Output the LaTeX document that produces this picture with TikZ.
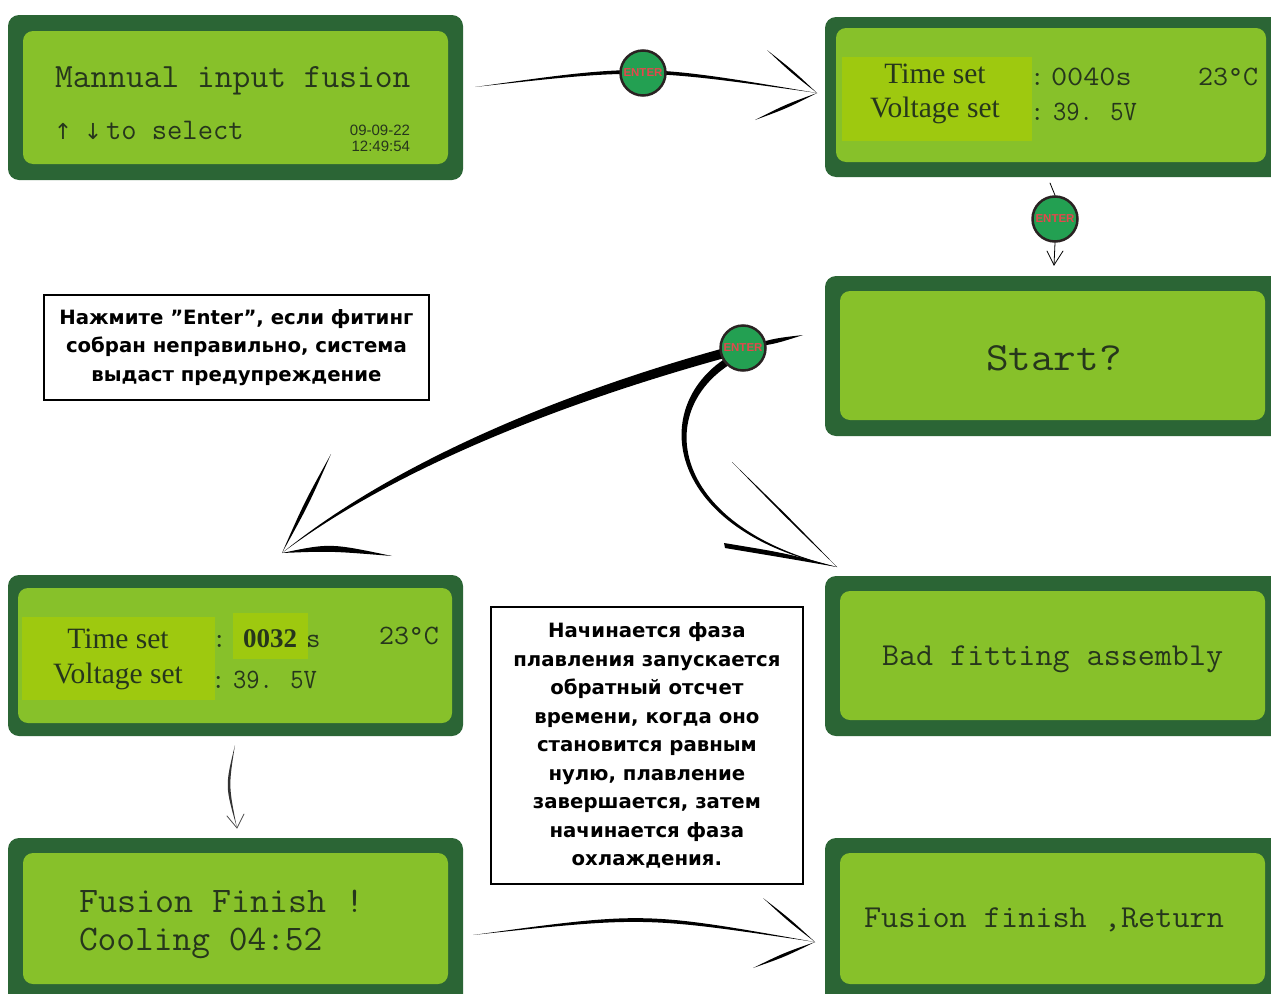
\documentclass[tikz,border=0pt]{standalone}
\usepackage{fontspec}
\usepackage{graphicx}
\usetikzlibrary{calc}
\setmainfont{Liberation Serif}
\newfontfamily\notefont{DejaVu Sans}
\newfontfamily\digitfont{Liberation Sans}
\newfontfamily\arrowfont{DejaVu Sans}

\definecolor{lcdframe}{HTML}{2B6535}
\definecolor{lcdface}{HTML}{87C12A}
\definecolor{lcdhigh}{HTML}{9EC90F}
\definecolor{lcdink}{HTML}{26361C}
\definecolor{btnfill}{HTML}{23A052}
\definecolor{btnring}{HTML}{2A2222}
\definecolor{btntext}{HTML}{E4474C}

% LCD-style text: size, horizontal scale, content (typewriter face)
\newcommand\lcd[3]{\scalebox{#2}[1]{\fontsize{#1}{#1}\selectfont\ttfamily #3}}
% tapered brush stroke between two points, #3 = bulge
\newcommand\quill[3]{\fill[black] (#1) .. controls ($(#1)!0.5!(#2)!#3!90:(#2)$) .. (#2) .. controls ($(#1)!0.5!(#2)!#3!-90:(#2)$) .. (#1) -- cycle;}

\begin{document}
\begin{tikzpicture}[x=1pt,y=-1pt,
  frame/.style={rectangle, fill=lcdframe, rounded corners=11pt, inner sep=0pt, outer sep=0pt, anchor=north west},
  face/.style={rectangle, fill=lcdface, rounded corners=10pt, inner sep=0pt, outer sep=0pt, anchor=north west},
  high/.style={rectangle, fill=lcdhigh, inner sep=0pt, outer sep=0pt, anchor=north west},
  lcdtext/.style={text=lcdink, inner sep=0pt, outer sep=0pt, anchor=base west},
  serif/.style={text=lcdink, inner sep=0pt, outer sep=0pt, anchor=base, font=\fontsize{29.5}{29.5}\selectfont},
  button/.style={circle, fill=btnfill, draw=btnring, line width=2.5pt, minimum size=45pt, inner sep=0pt,
    font=\digitfont\bfseries\fontsize{11.5}{11.5}\selectfont, text=btntext},
  note/.style={rectangle, draw=black, line width=1.8pt, align=center, inner sep=0pt, anchor=north west,
    font=\notefont\bfseries\fontsize{19.7}{28.5}\selectfont},
  thinline/.style={draw=black, line width=0.8pt, line cap=round},
]
\useasboundingbox (0,0) rectangle (1271,993);
\fill[white] (0,0) rectangle (1271,993);

% ---------- LCD screens ----------
% main menu
\node[frame, minimum width=455pt, minimum height=165pt] (p1) at (8,15) {};
\node[face, minimum width=425pt, minimum height=133pt] (p1f) at (23,31) {};
\node[lcdtext] (t1a) at (55,87) {\lcd{34}{1.015}{Mannual input fusion}};
\node[text=lcdink, inner sep=0pt, anchor=base] (up) at (63,139) {\fontsize{22}{22}\arrowfont ↑};
\node[text=lcdink, inner sep=0pt, anchor=base] (down) at (93,139) {\fontsize{22}{22}\arrowfont ↓};
\node[lcdtext] (t1b) at (106,139) {\lcd{30}{0.99}{to select}};
\node[lcdtext, anchor=base east] (d1) at (410,135) {\fontsize{15}{15}\selectfont\digitfont 09-09-22};
\node[lcdtext, anchor=base east] (d2) at (410,151) {\fontsize{15}{15}\selectfont\digitfont 12:49:54};

% parameter screen
\node[frame, minimum width=460pt, minimum height=160pt] (p2) at (825,17) {};
\node[face, minimum width=430pt, minimum height=134pt] (p2f) at (836,28) {};
\node[high, minimum width=190pt, minimum height=84pt] (p2h) at (842,57) {};
\node[serif] (ts2) at (935,83) {Time set};
\node[serif] (vs2) at (935,117) {Voltage set};
\node[lcdtext] (c2a) at (1030,85) {\lcd{28}{1.0}{:}};
\node[lcdtext] (tv2) at (1051,85) {\lcd{28}{1.12}{0040s}};
\node[lcdtext] (tc2) at (1198,85) {\lcd{28}{1.04}{23°C}};
\node[lcdtext] (c2b) at (1030,120) {\lcd{28}{1.0}{:}};
\node[lcdtext] (vv2) at (1053,120) {\lcd{28}{0.92}{39. 5V}};

% start prompt
\node[frame, minimum width=460pt, minimum height=160pt] (p3) at (825,276) {};
\node[face, minimum width=425pt, minimum height=129pt] (p3f) at (840,291) {};
\node[lcdtext] (st) at (986,370) {\lcd{40}{1.1}{Start?}};

% fitting warning
\node[frame, minimum width=460pt, minimum height=160pt] (p4) at (825,576) {};
\node[face, minimum width=425pt, minimum height=129pt] (p4f) at (840,591) {};
\node[lcdtext] (bad) at (882,665) {\lcd{32}{1.035}{Bad fitting assembly}};

% countdown screen
\node[frame, minimum width=455pt, minimum height=161pt] (p5) at (8,575) {};
\node[face, minimum width=434pt, minimum height=135pt] (p5f) at (18,588) {};
\node[high, minimum width=193pt, minimum height=83pt] (p5h) at (22,617) {};
\node[high, minimum width=75pt, minimum height=46pt] (p5n) at (233,613) {};
\node[serif] (ts5) at (118,648) {Time set};
\node[serif] (vs5) at (118,683) {Voltage set};
\node[lcdtext] (c5) at (212,647) {\lcd{28}{1.0}{:}};
\node[lcdtext] (n5) at (243,647) {\fontsize{27}{27}\selectfont\bfseries 0032};
\node[lcdtext] (s5) at (306,647) {\lcd{28}{1.0}{s}};
\node[lcdtext] (tc5) at (379,644) {\lcd{28}{1.04}{23°C}};
\node[lcdtext] (c5b) at (211,688) {\lcd{28}{1.0}{:}};
\node[lcdtext] (vv5) at (233,688) {\lcd{28}{0.92}{39. 5V}};

% cooling screen
\node[frame, minimum width=455pt, minimum height=170pt] (p6) at (8,838) {};
\node[face, minimum width=425pt, minimum height=131pt] (p6f) at (23,853) {};
\node[lcdtext] (ff) at (79,912) {\lcd{36}{1.025}{Fusion Finish !}};
\node[lcdtext] (cool) at (79,950) {\lcd{36}{1.01}{Cooling 04:52}};

% return screen
\node[frame, minimum width=460pt, minimum height=170pt] (p7) at (825,838) {};
\node[face, minimum width=425pt, minimum height=131pt] (p7f) at (840,853) {};
\node[lcdtext] (ret) at (864,927) {\lcd{32}{1.04}{Fusion finish ,Return}};

% ---------- notes ----------
\node[note, minimum width=385pt, minimum height=105pt] (n1) at (43,294)
  {Нажмите ”Enter”, если фитинг\\собран неправильно, система\\выдаст предупреждение};
\node[note, minimum width=312pt, minimum height=277pt] (n2) at (490,606)
  {Начинается фаза\\плавления запускается\\обратный отсчет\\времени, когда оно\\становится равным\\нулю, плавление\\завершается, затем\\начинается фаза\\охлаждения.};

% ---------- brush arrows ----------
\coordinate (aL) at (475,87);  \coordinate (aT) at (817,93);
\coordinate (aH1) at (767,50); \coordinate (aH2) at (755,120);
\fill (aL) .. controls (642,63.5) .. (aT) .. controls (642,68.5) .. (aL) -- cycle;
\quill{aH1}{aT}{1.5pt}
\quill{aT}{aH2}{2pt}

\coordinate (bTop) at (1050,183); \coordinate (bT) at (1054,265);
\coordinate (bH1) at (1047,251);  \coordinate (bH2) at (1063,251);

\coordinate (b3c) at (743,348);
\coordinate (cR) at (803,335);  \coordinate (cT) at (282,553);
\coordinate (cH1) at (331,454); \coordinate (cH2) at (392,556);
\quill{b3c}{cR}{3pt}
\fill (743,343) .. controls (580,386) and (400,457) .. (cT) .. controls (402,463) and (582,396) .. (743,353) -- cycle;
\quill{cH1}{cT}{2.5pt}
\fill (cT) .. controls (330,543) .. (cH2) .. controls (330,551) .. (cT) -- cycle;

\coordinate (dT) at (837,567);
\coordinate (dH1) at (732,462); \coordinate (dH2) at (724,543);
\fill (726,358) .. controls (647,409) and (667,532) .. (dT) .. controls (672,528) and (652,412) .. (732,363) -- cycle;
\quill{dH1}{dT}{1.2pt}
\fill (dH2) .. controls (785,553) .. (dT) .. controls (785,558) .. (725,548) -- cycle;

\coordinate (eS) at (235,745); \coordinate (eT) at (237,828);
\coordinate (eH1) at (227,816); \coordinate (eH2) at (244,814);
\fill[black!80] (eS) .. controls (225,786) .. (eT) .. controls (228.5,786) .. (eS) -- cycle;
\draw[thinline, black!70] (eH1) -- (eT) -- (eH2);

\coordinate (fL) at (473,935); \coordinate (fT) at (815,942);
\coordinate (fH1) at (763,898); \coordinate (fH2) at (753,968);
\fill (fL) .. controls (644,911.5) .. (fT) .. controls (644,916.5) .. (fL) -- cycle;
\quill{fH1}{fT}{1.5pt}
\quill{fT}{fH2}{2pt}

% ---------- ENTER buttons ----------
\node[button] (b1) at (643,73) {ENTER};
\node[button] (b2) at (1055,219) {ENTER};
\node[button] (b3) at (b3c) {ENTER};
\draw[thinline] (bTop) -- (b2.north);
\draw[thinline] (b2.south) -- (bT);
\draw[thinline] (bH1) -- (bT) -- (bH2);
\end{tikzpicture}
\end{document}
